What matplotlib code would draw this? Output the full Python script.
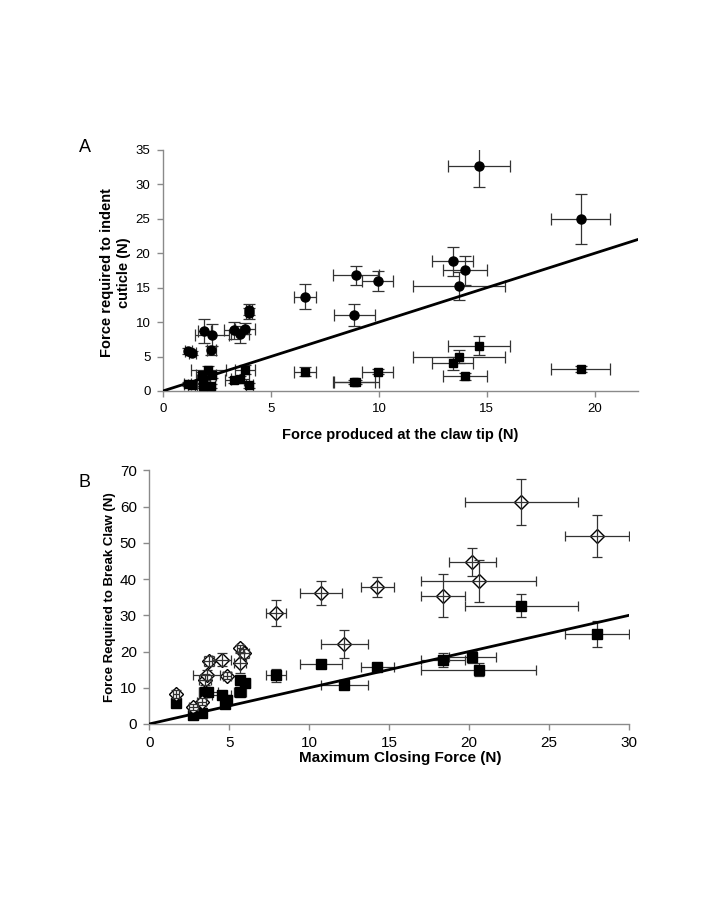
import matplotlib
matplotlib.use("Agg")
import matplotlib.pyplot as plt

plt.rcParams["font.family"] = ["Liberation Sans", "DejaVu Sans"]

# Panel A: force to indent cuticle vs force at claw tip
a_circle_x = [1.17, 1.36, 1.90, 2.27, 2.24, 3.29, 3.56, 3.80, 3.98, 3.98,
              6.57, 8.86, 8.95, 9.95, 13.43, 13.70, 14.00, 14.63, 19.35]
a_circle_y = [5.8, 5.5, 8.7, 8.1, 5.9, 8.8, 8.2, 9.0, 11.3, 11.8,
              13.7, 11.1, 16.8, 15.9, 18.8, 15.2, 17.5, 32.6, 25.0]
a_circle_xerr = [0.15, 0.15, 0.3, 0.8, 0.2, 0.45, 0.4, 0.45, 0.15, 0.15,
                 0.51, 0.96, 1.06, 0.72, 0.95, 2.14, 1.02, 1.43, 1.37]
a_circle_yerr = [0.5, 0.3, 1.8, 1.6, 0.7, 1.2, 1.2, 0.8, 0.8, 0.8,
                 1.8, 1.6, 1.4, 1.45, 2.15, 2.06, 2.15, 3.0, 3.66]

a_square_x = [1.14, 1.33, 1.82, 1.87, 1.87, 2.10, 2.22, 2.27, 3.30, 3.56, 3.80,
              4.00, 6.57, 8.86, 8.95, 9.95, 13.43, 13.70, 14.00, 14.63, 19.35]
a_square_y = [1.0, 0.9, 2.3, 1.6, 0.7, 3.1, 0.7, 2.3, 1.6, 1.7, 3.1,
              0.8, 2.8, 1.3, 1.3, 2.8, 4.0, 5.0, 2.1, 6.6, 3.2]
a_square_xerr = [0.15, 0.15, 0.3, 0.3, 0.3, 0.8, 0.2, 0.2, 0.45, 0.4, 0.45,
                 0.15, 0.51, 0.96, 1.06, 0.72, 0.95, 2.14, 1.02, 1.43, 1.37]
a_square_yerr = [0.3, 0.3, 0.5, 0.4, 0.3, 0.5, 0.3, 0.4, 0.4, 0.5, 0.6,
                 0.4, 0.65, 0.3, 0.3, 0.4, 0.9, 1.0, 0.5, 1.4, 0.4]

# Panel B: force to break claw vs maximum closing force
b_diamond_x = [1.65, 2.75, 3.27, 3.48, 3.58, 3.75, 4.52, 4.84, 5.67, 5.92,
               5.67, 7.92, 10.75, 12.20, 14.25, 18.36, 20.20, 20.60, 23.27, 28.00]
b_diamond_y = [8.3, 4.6, 6.2, 12.2, 13.5, 17.4, 17.7, 13.3, 20.9, 19.5,
               16.9, 30.7, 36.2, 22.0, 37.8, 35.4, 44.6, 39.5, 61.3, 51.9]
b_diamond_xerr = [0.2, 0.3, 0.3, 0.4, 0.86, 0.3, 0.6, 0.25, 0.2, 0.3,
                  0.4, 0.6, 1.3, 1.49, 1.04, 1.39, 1.49, 3.59, 3.56, 2.0]
b_diamond_yerr = [1.0, 0.8, 1.0, 1.5, 1.5, 1.5, 1.8, 1.0, 1.0, 1.2,
                  2.8, 3.6, 3.4, 3.87, 2.76, 5.9, 3.87, 5.7, 6.26, 5.8]

b_square_x = [1.65, 2.75, 3.27, 3.48, 3.69, 4.52, 4.73, 4.84, 5.67, 5.98,
              5.67, 7.92, 10.75, 12.20, 14.25, 18.36, 20.20, 20.60, 23.27, 28.00]
b_square_y = [5.7, 2.5, 2.95, 8.8, 8.9, 8.0, 5.4, 6.6, 12.2, 11.4,
              8.8, 13.4, 16.6, 10.8, 15.7, 17.6, 18.5, 15.0, 32.7, 24.9]
b_square_xerr = [0.2, 0.3, 0.3, 0.4, 0.6, 0.6, 0.25, 0.25, 0.2, 0.3,
                 0.4, 0.6, 1.3, 1.49, 1.04, 1.39, 1.49, 3.59, 3.56, 2.0]
b_square_yerr = [0.8, 0.5, 0.5, 1.2, 1.0, 1.0, 0.8, 0.8, 1.0, 1.0,
                 1.2, 1.8, 1.0, 1.2, 1.0, 1.9, 1.6, 1.8, 3.1, 3.6]

a_xlim = (0, 22)
a_ylim = (0, 35)
a_xticks = [0, 5, 10, 15, 20]
a_yticks = [0, 5, 10, 15, 20, 25, 30, 35]
b_xlim = (0, 30)
b_ylim = (0, 70)
b_xticks = [0, 5, 10, 15, 20, 25, 30]
b_yticks = [0, 10, 20, 30, 40, 50, 60, 70]

SPINE = "#8a8a8a"
BAR = "#333333"


def style_axes(ax, tick_size):
    for side in ("top", "right"):
        ax.spines[side].set_visible(False)
    for side in ("left", "bottom"):
        ax.spines[side].set_color(SPINE)
        ax.spines[side].set_linewidth(1.0)
    ax.tick_params(direction="out", length=4, width=1.0, color=SPINE,
                   labelsize=tick_size, labelcolor="black", pad=5)


def draw_series(ax, x, y, xerr, yerr, marker, ms, face, capsize,
                z_bars, z_marks):
    ax.errorbar(x, y, xerr=xerr, yerr=yerr, fmt="none", ecolor=BAR,
                elinewidth=0.9, capsize=capsize, capthick=0.9, zorder=z_bars)
    ax.plot(x, y, linestyle="none", marker=marker, markersize=ms,
            markerfacecolor=face, markeredgecolor="black",
            markeredgewidth=1.0, zorder=z_marks)


fig = plt.figure(figsize=(7.2, 9), dpi=100)

# ---- panel A ----
ax_a = fig.add_axes([0.2264, 0.5656, 0.6597, 0.2678])
draw_series(ax_a, a_square_x, a_square_y, a_square_xerr, a_square_yerr,
            "s", 6.0, "black", 4, 2.0, 3.0)
draw_series(ax_a, a_circle_x, a_circle_y, a_circle_xerr, a_circle_yerr,
            "o", 6.5, "black", 4, 2.1, 3.1)
ax_a.plot(a_xlim, a_xlim, color="black", linewidth=2.0, zorder=5)
ax_a.set_xlim(*a_xlim)
ax_a.set_ylim(*a_ylim)
ax_a.set_xticks(a_xticks)
ax_a.set_yticks(a_yticks)
style_axes(ax_a, 9.5)
ax_a.set_xlabel("Force produced at the claw tip (N)", fontsize=10.5,
                fontweight="bold", va="center")
ax_a.xaxis.set_label_coords(0.499, -0.183)
ax_a.set_ylabel("Force required to indent\ncuticle (N)", fontsize=10.5,
                fontweight="bold", va="center", linespacing=1.3)
ax_a.yaxis.set_label_coords(-0.10, 0.49)
fig.text(85 / 720, 1 - 147 / 900, "A", fontsize=13, ha="center", va="center")

# ---- panel B ----
ax_b = fig.add_axes([0.2074, 0.1956, 0.6663, 0.2817])
draw_series(ax_b, b_square_x, b_square_y, b_square_xerr, b_square_yerr,
            "s", 7.2, "black", 3.5, 2.0, 3.0)
draw_series(ax_b, b_diamond_x, b_diamond_y, b_diamond_xerr, b_diamond_yerr,
            "D", 6.8, "white", 3.5, 3.3, 3.2)
ax_b.plot(b_xlim, b_xlim, color="black", linewidth=2.0, zorder=5)
ax_b.set_xlim(*b_xlim)
ax_b.set_ylim(*b_ylim)
ax_b.set_xticks(b_xticks)
ax_b.set_yticks(b_yticks)
style_axes(ax_b, 11)
ax_b.set_xlabel("Maximum Closing Force (N)", fontsize=11,
                fontweight="bold", va="center")
ax_b.xaxis.set_label_coords(0.523, -0.134)
ax_b.set_ylabel("Force Required to Break Claw (N)", fontsize=9.5,
                fontweight="bold", va="center")
ax_b.yaxis.set_label_coords(-0.082, 0.5)
fig.text(85 / 720, 1 - 483 / 900, "B", fontsize=13, ha="center", va="center")

fig.savefig("out.png", dpi=100)
plt.close(fig)
